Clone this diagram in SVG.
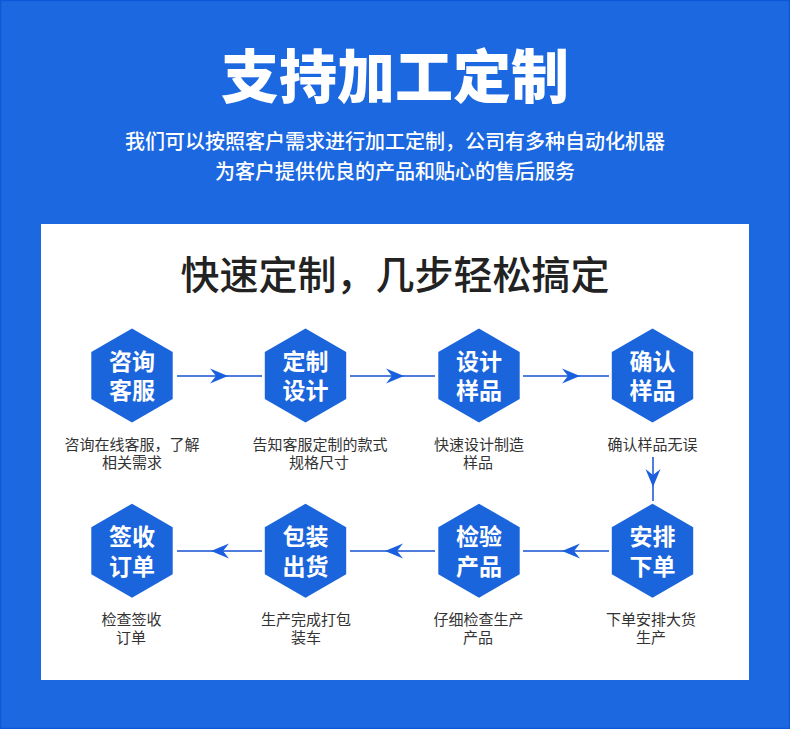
<svg xmlns="http://www.w3.org/2000/svg" width="790" height="729" viewBox="0 0 790 729">
<defs>
<style>
.cjk{font-family:"Noto Sans CJK SC","Noto Sans",sans-serif;text-anchor:middle}
.t1{font-size:58px;font-weight:900;fill:#fff}
.t2{font-size:20px;font-weight:500;fill:#fff}
.t3{font-size:39px;font-weight:500;fill:#222}
.hx{fill:#1a64dc}
.ht{font-size:23px;font-weight:700;fill:#fff}
.lb{font-size:15px;font-weight:400;fill:#333}
.ln{stroke:#1450d2;stroke-width:1.5;fill:none}
.ah{fill:#1a5fe0}
</style>
<polygon id="hexshape" points="0,-47 40.7,-23.5 40.7,23.5 0,47 -40.7,23.5 -40.7,-23.5"/>
<path id="arr" d="M0,0 L-18,-7.5 L-12,0 L-18,7.5 Z"/>
</defs>
<rect x="0" y="0" width="790" height="729" fill="#1b68e1"/>
<rect x="0.5" y="0.5" width="789" height="728" fill="none" stroke="#0d58d8" stroke-width="1.5"/>
<text class="cjk t1" x="395" y="98">支持加工定制</text>
<text class="cjk t2" x="395" y="149">我们可以按照客户需求进行加工定制，公司有多种自动化机器<tspan x="395" dy="29.5">为客户提供优良的产品和贴心的售后服务</tspan></text>
<rect x="41" y="224" width="708" height="456" fill="#fff"/>
<text class="cjk t3" x="395" y="289">快速定制，几步轻松搞定</text>
<g id="connectors">
<line class="ln" x1="177" y1="376" x2="262" y2="376"/>
<use href="#arr" class="ah" transform="translate(228,376)"/>
<line class="ln" x1="350" y1="376" x2="435" y2="376"/>
<use href="#arr" class="ah" transform="translate(404,376)"/>
<line class="ln" x1="523" y1="376" x2="609" y2="376"/>
<use href="#arr" class="ah" transform="translate(580,376)"/>
<line class="ln" x1="653" y1="457" x2="653" y2="501"/>
<use href="#arr" class="ah" transform="translate(653,487) rotate(90)"/>
<line class="ln" x1="523" y1="551" x2="609" y2="551"/>
<use href="#arr" class="ah" transform="translate(562,551) rotate(180)"/>
<line class="ln" x1="350" y1="551" x2="435" y2="551"/>
<use href="#arr" class="ah" transform="translate(385,551) rotate(180)"/>
<line class="ln" x1="177" y1="551" x2="262" y2="551"/>
<use href="#arr" class="ah" transform="translate(211,551) rotate(180)"/>
</g>
<g id="n1">
<use href="#hexshape" class="hx" transform="translate(132,375.5)"/>
<text class="cjk ht" x="132" y="369.5">咨询<tspan x="132" dy="29.5">客服</tspan></text>
<text class="cjk lb" x="132" y="449.5">咨询在线客服，了解<tspan x="132" dy="18">相关需求</tspan></text>
</g>
<g id="n2">
<use href="#hexshape" class="hx" transform="translate(305.5,375.5)"/>
<text class="cjk ht" x="305.5" y="369.5">定制<tspan x="305.5" dy="29.5">设计</tspan></text>
<text class="cjk lb" x="320" y="449.5">告知客服定制的款式<tspan x="319" dy="18">规格尺寸</tspan></text>
</g>
<g id="n3">
<use href="#hexshape" class="hx" transform="translate(479,375.5)"/>
<text class="cjk ht" x="479" y="369.5">设计<tspan x="479" dy="29.5">样品</tspan></text>
<text class="cjk lb" x="479" y="449.5">快速设计制造<tspan x="478" dy="18">样品</tspan></text>
</g>
<g id="n4">
<use href="#hexshape" class="hx" transform="translate(652.5,375.5)"/>
<text class="cjk ht" x="652.5" y="369.5">确认<tspan x="652.5" dy="29.5">样品</tspan></text>
<text class="cjk lb" x="652.5" y="449.5">确认样品无误</text>
</g>
<g id="n5">
<use href="#hexshape" class="hx" transform="translate(652.5,550.7)"/>
<text class="cjk ht" x="652.5" y="544.5">安排<tspan x="652.5" dy="30">下单</tspan></text>
<text class="cjk lb" x="651" y="625">下单安排大货<tspan x="651" dy="18">生产</tspan></text>
</g>
<g id="n6">
<use href="#hexshape" class="hx" transform="translate(479,550.7)"/>
<text class="cjk ht" x="479" y="544.5">检验<tspan x="479" dy="30">产品</tspan></text>
<text class="cjk lb" x="478.5" y="625">仔细检查生产<tspan x="478" dy="18">产品</tspan></text>
</g>
<g id="n7">
<use href="#hexshape" class="hx" transform="translate(305.5,550.7)"/>
<text class="cjk ht" x="305.5" y="544.5">包装<tspan x="305.5" dy="30">出货</tspan></text>
<text class="cjk lb" x="306" y="625">生产完成打包<tspan x="306" dy="18">装车</tspan></text>
</g>
<g id="n8">
<use href="#hexshape" class="hx" transform="translate(132,550.7)"/>
<text class="cjk ht" x="132" y="544.5">签收<tspan x="132" dy="30">订单</tspan></text>
<text class="cjk lb" x="131.5" y="625">检查签收<tspan x="131" dy="18">订单</tspan></text>
</g>
</svg>
